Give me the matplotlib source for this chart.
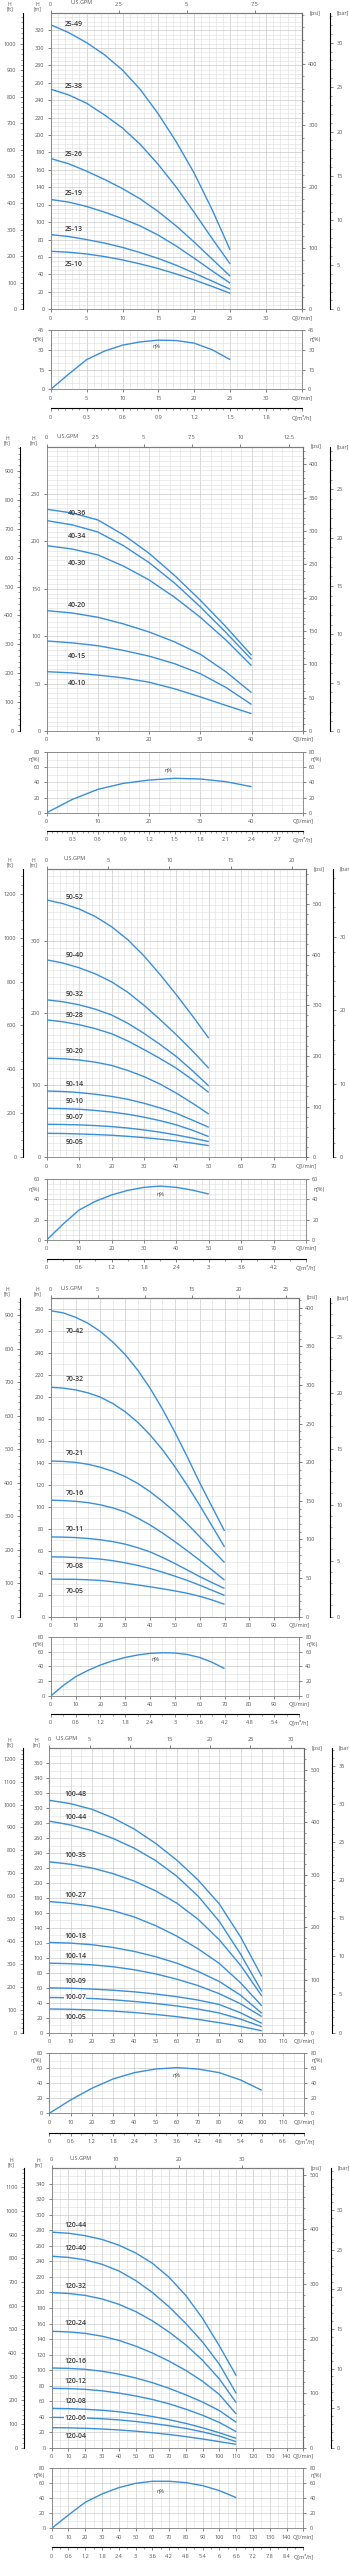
# Кривые насосов: напор H(Q) и КПД η(Q) для шести серий
import numpy as np
import matplotlib.pyplot as plt
from matplotlib.ticker import MultipleLocator, AutoMinorLocator

plt.rcParams['font.family'] = ['Open Sans', 'DejaVu Sans']

W, H = 349, 2560
BLUE = '#3a8fd8'
GRID_MAJ = '#c4c4c4'
GRID_MIN = '#dedede'
SPINE = '#7d7d7d'
TXT = '#555555'

# ---- Серия 25 ----
q_25 = [0, 2.5, 5, 7.5, 10, 12.5, 15, 17.5, 20, 22.5, 25]
names_25 = ['25-49', '25-38', '25-26', '25-19', '25-13', '25-10']
h_25_49 = [326.5, 317.5, 306, 292, 274.5, 252, 224, 192, 156, 114, 68]
h_25_38 = [252.6, 246, 236.5, 223, 208, 189, 166, 140, 111, 81, 52]
h_25_26 = [173, 167, 158.5, 149, 138.5, 126.5, 112, 95.5, 77, 57.5, 38]
h_25_19 = [126, 123, 118, 111.5, 104, 95.5, 85, 72.5, 58.5, 44, 30]
h_25_13 = [85.7, 83.5, 80, 76, 71, 65, 58.3, 50.5, 41.5, 32.3, 23]
h_25_10 = [66.6, 65.5, 63.5, 60.5, 56.7, 52, 46.7, 40.5, 33.7, 26.2, 18.4]
lab_h_25 = [326.5, 255.7, 178, 133, 92, 51]
eff_25 = [0, 11.5, 22.5, 29, 33.5, 36, 37.3, 37, 35, 30, 22.5]

# ---- Серия 40 ----
q_40 = [0, 5, 10, 15, 20, 25, 30, 35, 40]
names_40 = ['40-36', '40-34', '40-30', '40-20', '40-15', '40-10']
h_40_36 = [234, 230, 222.7, 207, 187.5, 164, 138, 110, 80]
h_40_34 = [222, 217.5, 210, 195.5, 177.7, 156, 131, 104, 75.6]
h_40_30 = [195.6, 192, 185.8, 174, 159.4, 141, 120, 96, 69]
h_40_20 = [127, 124.5, 120, 113, 104.5, 94, 81, 62.5, 40.5]
h_40_15 = [95, 93, 90, 85, 79, 71, 60.5, 46, 28]
h_40_10 = [62.6, 61.3, 59, 56, 51.5, 44.5, 36, 27, 18.3]
lab_h_40 = [229, 205, 177, 132, 78.5, 50.3]
eff_40 = [0, 17.5, 30.8, 38.7, 43, 45.3, 44.4, 40.9, 34.3]

# ---- Серия 50 ----
q_50 = [0, 5, 10, 15, 20, 25, 30, 35, 40, 45, 50]
names_50 = ['50-52', '50-40', '50-32', '50-28', '50-20', '50-14', '50-10', '50-07', '50-05']
h_50_52 = [357, 352, 344.5, 334, 320, 302, 279.5, 253.5, 225.5, 196, 165.3]
h_50_40 = [274, 269.5, 263, 254.5, 243.5, 229, 211, 191, 170, 147.5, 123.6]
h_50_32 = [218.5, 215.8, 211.6, 205.5, 197.5, 186, 172, 156.5, 139.8, 120, 99]
h_50_28 = [190.7, 188, 184, 178.5, 171.5, 161.5, 149.5, 137, 123.6, 107.5, 90]
h_50_20 = [137.5, 136.7, 135, 132, 127.5, 120.5, 112, 101.5, 89, 75, 60]
h_50_14 = [92, 91.3, 89.8, 87.5, 84.5, 80.5, 75, 68.5, 61, 51.5, 41.7]
h_50_10 = [68, 67.5, 66.7, 65, 62.8, 59.7, 55.7, 50.8, 45, 37.5, 28.7]
h_50_07 = [45.8, 45.5, 45, 44, 42.6, 40.6, 38, 34.8, 31, 26.6, 21.8]
h_50_05 = [33.3, 33, 32.4, 31.6, 30.6, 29.1, 27.3, 25.2, 22.7, 19.6, 16.2]
lab_h_50 = [361, 279.6, 226, 196.8, 146.8, 101.4, 77.3, 55.6, 20.4]
eff_50 = [0, 15.5, 29.5, 38, 44.3, 48.8, 51.8, 53, 51.8, 49, 45.2]

# ---- Серия 70 ----
q_70 = [0, 5, 10, 15, 20, 25, 30, 35, 40, 45, 50, 55, 60, 65, 70]
names_70 = ['70-42', '70-32', '70-21', '70-16', '70-11', '70-08', '70-05']
h_70_42 = [278.4, 276.5, 272.5, 267, 259.5, 250, 238.5, 224.5, 208, 189, 168, 145.5, 122, 100, 78]
h_70_32 = [208.8, 208, 206.4, 203.7, 199.8, 194, 186.5, 177, 165.5, 152, 136.5, 119.5, 101.4, 82.5, 63.5]
h_70_21 = [141.6, 141.3, 140.4, 138.7, 136, 132.3, 127.5, 121.3, 113.8, 105, 95.3, 84.5, 72.8, 61, 49.3]
h_70_16 = [106, 105.7, 105, 103.8, 101.8, 99, 95.3, 89.8, 83.5, 76.2, 68.3, 60, 51.4, 42.5, 33.3]
h_70_11 = [72.6, 72.4, 72, 71.2, 70, 68.3, 66, 62.8, 59, 54, 48.4, 42.5, 36.5, 31, 25.7]
h_70_08 = [54.5, 54.3, 53.9, 53.3, 52.4, 51, 49, 46.7, 43.9, 40.6, 36.9, 33, 28.7, 24, 19.4]
h_70_05 = [34.2, 34.1, 34, 33.6, 33, 31.8, 30.4, 28.9, 27.2, 25.4, 23.5, 21.3, 18.6, 15.2, 11.3]
lab_h_70 = [259.6, 215.8, 148.3, 112, 79.3, 46, 23.3]
eff_70 = [0, 14, 26, 34.5, 41.8, 47.5, 52, 55.3, 57.5, 58.4, 58, 56, 52, 45.5, 37]

# ---- Серия 100 ----
q_100 = [0, 10, 20, 30, 40, 50, 60, 70, 80, 90, 100]
names_100 = ['100-48', '100-44', '100-35', '100-27', '100-18', '100-14', '100-09', '100-07', '100-05']
h_100_48 = [310.5, 306, 298.5, 287, 272, 253, 230.5, 204, 172, 128, 75]
h_100_44 = [282.7, 277.5, 270, 259.5, 246.5, 230, 209, 182.5, 148.6, 105, 55]
h_100_35 = [228.2, 225, 220, 212.5, 202.5, 189.5, 173, 151.5, 124, 90, 49]
h_100_27 = [175.2, 172.7, 169, 163, 154.5, 143, 129, 112, 92.5, 66.5, 35.7]
h_100_18 = [120.6, 119.6, 117.5, 113.8, 108.5, 101.5, 92.8, 81.8, 68.3, 50, 25.8]
h_100_14 = [92.8, 92.1, 90.6, 88, 84, 78.5, 71.4, 62.8, 52, 38.5, 21.4]
h_100_09 = [59.8, 59.3, 58.2, 56.6, 54.5, 51.6, 48, 43.5, 37.5, 26.5, 12.4]
h_100_07 = [46.9, 46.5, 45.6, 43.9, 41.6, 38.9, 35.6, 31.5, 26.2, 18, 7.9]
h_100_05 = [31.6, 31.2, 30.3, 28.8, 26.8, 24.3, 21.3, 17.6, 13.3, 8.3, 2.5]
lab_h_100 = [318.6, 287.4, 236.9, 183.7, 128.6, 101.8, 68.3, 46.9, 20.5]
eff_100 = [0, 17.8, 33.3, 45.8, 54.2, 59, 60.9, 59, 54.2, 44.4, 30.7]

# ---- Серия 120 ----
q_120 = [0, 10, 20, 30, 40, 50, 60, 70, 80, 90, 100, 110]
names_120 = ['120-44', '120-40', '120-32', '120-24', '120-16', '120-12', '120-08', '120-06', '120-04']
h_120_44 = [277.7, 276.3, 273.2, 268.3, 261, 251, 237.7, 219.5, 196, 166.5, 131, 92.8]
h_120_40 = [246.7, 245.2, 242, 236.3, 227.8, 215.5, 200, 181.5, 160, 136, 107.5, 70]
h_120_32 = [199.9, 198.7, 196.2, 191.7, 184.8, 175.5, 163.5, 149, 132.4, 112.5, 88.5, 58]
h_120_24 = [150, 149.2, 147.3, 143.7, 138.3, 131, 122, 111.5, 99.5, 85.5, 68.5, 43.4]
h_120_16 = [102.7, 102.2, 101, 98.5, 94.8, 89.9, 83.8, 76.5, 68, 58.8, 47.8, 32.7]
h_120_12 = [76.5, 76.1, 75.2, 73.3, 70.4, 66.7, 62.2, 56.5, 49.6, 41.8, 32.5, 20.6]
h_120_08 = [50.7, 50.3, 49.5, 48.2, 46.3, 43.6, 40.2, 36.1, 31.3, 25.6, 19.2, 12]
h_120_06 = [39.1, 38.8, 38.3, 37.3, 35.8, 33.8, 31.3, 28.3, 24.8, 20.4, 15, 7.7]
h_120_04 = [25.8, 25.6, 25, 24.1, 22.9, 21.3, 19.3, 17, 14.3, 11.2, 7.8, 4.3]
lab_h_120 = [286.3, 256.2, 207.6, 159.5, 110.9, 85.1, 59.3, 37.8, 15]
eff_120 = [0, 17.8, 34.7, 45.8, 54.2, 60, 62.7, 62.7, 60.9, 56.9, 50.2, 40.9]

# Положение меток η% (Q, η)
eta_lab = [(14.7, 32.8), (23.7, 55.4), (35.2, 45), (42.3, 49.5), (60, 50), (64.6, 49.7)]

# Разметка (пиксели) и шкалы для каждой панели
layout = [
    dict(L=50.7, R=302, T=13, B=309.3, eT=330, eB=389.3, m3y=408.3, ftx=22.7, barx=330,
         xmax=35, xstep=5, xmin=1, ymax=340, ystep=20, ymin=5, ft=(1000, 100), psi=(400, 100),
         bar=(30, 5), gpm=2.5, emax=45, estep=15, emin=5, m3=5, labq=2.0),
    dict(L=46.7, R=302.7, T=446.7, B=731, eT=752, eB=812.7, m3y=830.7, ftx=20, barx=330,
         xmax=50, xstep=10, xmin=2, ymax=300, ystep=50, ymin=5, ft=(900, 100), psi=(400, 50),
         bar=(25, 5), gpm=2.5, emax=80, estep=20, emin=10, m3=5, labq=4.1),
    dict(L=46.7, R=306, T=869, B=1157.3, eT=1179, eB=1240, m3y=1259, ftx=22.7, barx=333,
         xmax=80, xstep=10, xmin=2, ymax=400, ystep=100, ymin=10, ft=(1200, 200), psi=(500, 100),
         bar=(30, 10), gpm=5, emax=60, estep=20, emin=5, m3=10, labq=5.9),
    dict(L=50.7, R=299, T=1298, B=1616.7, eT=1636.7, eB=1696, m3y=1714, ftx=20, barx=330,
         xmax=100, xstep=10, xmin=5, ymax=290, ystep=20, ymin=10, ft=(900, 100), psi=(400, 50),
         bar=(25, 5), gpm=5, emax=80, estep=20, emin=10, m3=10, labq=6.0),
    dict(L=49.3, R=304.3, T=1748.3, B=2032.6, eT=2053.3, eB=2113.3, m3y=2132.7, ftx=22.7, barx=332,
         xmax=120, xstep=10, xmin=5, ymax=380, ystep=20, ymin=10, ft=(1200, 100), psi=(500, 100),
         bar=(35, 5), gpm=5, emax=80, estep=20, emin=10, m3=10, labq=6.9),
    dict(L=51.7, R=303.3, T=2168.3, B=2447.7, eT=2468.3, eB=2528.3, m3y=2547.3, ftx=24, barx=330.7,
         xmax=150, xstep=10, xmin=5, ymax=360, ystep=20, ymin=10, ft=(1100, 100), psi=(500, 100),
         bar=(30, 5), gpm=10, emax=80, estep=20, emin=10, m3=10, labq=7.5),
]

series = [
    (q_25, names_25, [h_25_49, h_25_38, h_25_26, h_25_19, h_25_13, h_25_10], lab_h_25, eff_25),
    (q_40, names_40, [h_40_36, h_40_34, h_40_30, h_40_20, h_40_15, h_40_10], lab_h_40, eff_40),
    (q_50, names_50, [h_50_52, h_50_40, h_50_32, h_50_28, h_50_20, h_50_14, h_50_10, h_50_07,
                      h_50_05], lab_h_50, eff_50),
    (q_70, names_70, [h_70_42, h_70_32, h_70_21, h_70_16, h_70_11, h_70_08, h_70_05], lab_h_70, eff_70),
    (q_100, names_100, [h_100_48, h_100_44, h_100_35, h_100_27, h_100_18, h_100_14, h_100_09,
                        h_100_07, h_100_05], lab_h_100, eff_100),
    (q_120, names_120, [h_120_44, h_120_40, h_120_32, h_120_24, h_120_16, h_120_12, h_120_08,
                        h_120_06, h_120_04], lab_h_120, eff_120),
]

# Метки, перекрывающие свою кривую (с белым фоном)
boxed = {'100-07', '120-06'}


def box(l, t, r, b):
    return [l / W, 1 - b / H, (r - l) / W, (b - t) / H]


def ftext(x, y, s, **kw):
    fig.text(x / W, 1 - y / H, s, **kw)


def fmt(v):
    return f'{round(v, 2):g}'


def style_ticks(a, **kw):
    a.tick_params(which='major', labelsize=4, colors=TXT, length=2, width=0.5, pad=2.5, **kw)
    a.tick_params(which='minor', colors=TXT, length=1.1, width=0.4, **kw)


fig = plt.figure(figsize=(W / 100, H / 100), dpi=100)

for lay, (q, names, heads, lab_h, eff), (eq, ee) in zip(layout, series, eta_lab):
    L, R, T, B = lay['L'], lay['R'], lay['T'], lay['B']
    xmax = lay['xmax']
    xt = list(np.arange(0, xmax, lay['xstep'])) + [xmax]
    xl = [fmt(v) for v in xt[:-1]] + ['Q[l/min]']

    # График напора
    ax = fig.add_axes(box(L, T, R, B))
    for hh in heads:
        ax.plot(q, hh, color=BLUE, lw=1.0, solid_capstyle='butt', solid_joinstyle='round', zorder=3)
    for name, yl in zip(names, lab_h):
        kw = {}
        if name in boxed:
            kw['bbox'] = dict(facecolor='white', edgecolor='none', pad=0.3)
        ax.text(lay['labq'], yl, name, fontsize=5, fontweight='semibold', color='#3a3a3a',
                ha='left', va='center', zorder=4, **kw)
    ax.set_xlim(0, xmax)
    ax.set_ylim(0, lay['ymax'])
    ax.set_xticks(xt, xl)
    ax.set_yticks(np.arange(0, lay['ymax'], lay['ystep']))
    ax.xaxis.set_minor_locator(MultipleLocator(lay['xmin']))
    ax.yaxis.set_minor_locator(MultipleLocator(lay['ymin']))
    ax.grid(which='major', color=GRID_MAJ, lw=0.45)
    ax.grid(which='minor', color=GRID_MIN, lw=0.4)
    ax.set_axisbelow(True)
    style_ticks(ax)
    ax.tick_params(which='minor', length=0)

    # Верхняя шкала U.S.GPM
    gpm = ax.secondary_xaxis('top', functions=(lambda v: v / 3.785, lambda g: g * 3.785))
    gt = np.arange(0, xmax / 3.785, lay['gpm'])
    gpm.set_xticks(gt, [fmt(v) for v in gt])
    style_ticks(gpm)
    x_gpm = L + (gt[1] * 3.785 / xmax) * (R - L) / 2 - 3
    ftext(x_gpm, T - 10, 'U.S.GPM', fontsize=4, color=TXT, ha='center', va='center')

    # psi справа
    psi = ax.secondary_yaxis('right', functions=(lambda m: m * 1.4223, lambda p: p / 1.4223))
    psi.set_yticks(np.arange(0, lay['psi'][0] + 1, lay['psi'][1]))
    psi.yaxis.set_minor_locator(AutoMinorLocator(5))
    style_ticks(psi)

    # ft слева
    ft = ax.secondary_yaxis((lay['ftx'] - L) / (R - L),
                            functions=(lambda m: m * 3.2808, lambda f: f / 3.2808))
    ft.set_yticks(np.arange(0, lay['ft'][0] + 1, lay['ft'][1]))
    ft.yaxis.set_minor_locator(AutoMinorLocator(5))
    style_ticks(ft)

    # bar справа
    bar = ax.secondary_yaxis((lay['barx'] - L) / (R - L),
                             functions=(lambda m: m / 10.197, lambda b: b * 10.197))
    bar.set_yticks(np.arange(0, lay['bar'][0] + 1, lay['bar'][1]))
    bar.yaxis.set_minor_locator(AutoMinorLocator(5))
    style_ticks(bar)

    # Подписи единиц
    ftext(lay['ftx'] - 13, T - 6, 'H\n[ft]', fontsize=3.6, color=TXT, ha='center', va='center',
          linespacing=0.9)
    ftext(L - 13, T - 6, 'H\n[m]', fontsize=3.6, color=TXT, ha='center', va='center',
          linespacing=0.9)
    ftext(R + 13, T, '[psi]', fontsize=4, color=TXT, ha='center', va='center')
    ftext(lay['barx'] + 13, T, '[bar]', fontsize=4, color=TXT, ha='center', va='center')

    # График КПД
    ax2 = fig.add_axes(box(L, lay['eT'], R, lay['eB']))
    ax2.plot(q, eff, color=BLUE, lw=1.0, solid_capstyle='butt', solid_joinstyle='round', zorder=3)
    ax2.text(eq, ee, 'η%', fontsize=4, color='#444444', ha='center', va='center')
    ax2.set_xlim(0, xmax)
    ax2.set_ylim(0, lay['emax'])
    ax2.set_xticks(xt, xl)
    ax2.set_yticks(np.arange(0, lay['emax'] + 1, lay['estep']))
    ax2.xaxis.set_minor_locator(MultipleLocator(lay['xmin']))
    ax2.yaxis.set_minor_locator(MultipleLocator(lay['emin']))
    ax2.grid(which='major', color=GRID_MAJ, lw=0.45)
    ax2.grid(which='minor', color=GRID_MIN, lw=0.4)
    ax2.set_axisbelow(True)
    style_ticks(ax2)
    ax2.tick_params(which='major', right=True, labelright=True)
    ax2.tick_params(which='minor', length=0)
    eta_y = lay['emax'] - lay['estep'] / 2
    ax2.text(-13 / (R - L), eta_y, 'η(%)', transform=ax2.get_yaxis_transform(), fontsize=4,
             color=TXT, ha='center', va='center')
    ax2.text(1 + 13 / (R - L), eta_y, 'η(%)', transform=ax2.get_yaxis_transform(), fontsize=4,
             color=TXT, ha='center', va='center')

    # Шкала м³/ч
    loc = -(lay['m3y'] - lay['eB']) / (lay['eB'] - lay['eT'])
    m3 = ax2.secondary_xaxis(loc, functions=(lambda v: v * 0.06, lambda m: m / 0.06))
    mt = list(np.arange(0, xmax, lay['m3']) * 0.06) + [xmax * 0.06]
    m3.set_xticks(mt, [fmt(v) for v in mt[:-1]] + ['Q[m³/h]'])
    m3.xaxis.set_minor_locator(AutoMinorLocator(5 if lay['m3'] == 5 else 2))
    style_ticks(m3)

# Цвет осей
for a in fig.axes:
    for s in a.spines.values():
        s.set_color(SPINE)
        s.set_linewidth(0.6)

fig.savefig('out.png', dpi=100)
